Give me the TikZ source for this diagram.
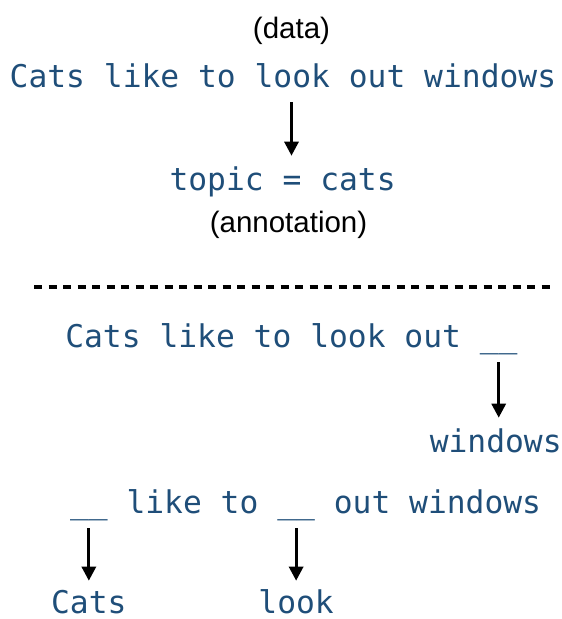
\documentclass[tikz,border=0pt]{standalone}
\usepackage{fontspec}
\setmainfont{Liberation Sans}
\setmonofont{DejaVu Sans Mono}
\usepackage{xcolor}
\usetikzlibrary{arrows.meta,positioning}
\definecolor{codeblue}{HTML}{1F4E79}
\newcommand{\cw}{18.844pt}

\begin{document}
\begin{tikzpicture}[x=1pt, y=-1pt,
    code/.style={font=\ttfamily\fontsize{31.3}{36}\selectfont, text=codeblue, inner sep=0pt, outer sep=0pt, text height=23.8pt, text depth=7.5pt},
    word/.style={code, text depth=1pt},
    note/.style={font=\fontsize{29.5}{34}\selectfont, inner sep=0pt},
    arrow/.style={-{Triangle[width=14pt,length=14pt]}, line width=3pt, shorten <=7.5pt, shorten >=11pt}]
    \useasboundingbox (0,0) rectangle (562,619);

    % data and its annotation
    \node [note, anchor=base] (data) at (291.5,38.5) {(data)};
    \node [code, anchor=base west] (sent) at (9.7,87) {Cats like to look out windows};
    \node [code, anchor=base] (topic) at (282.6,190.5) {topic = cats};
    \node [note, anchor=base] (annot) at (288.5,232) {(annotation)};
    \draw [arrow] (data |- sent.south) -- (data |- topic.north);

    \draw [dash pattern=on 8pt off 6.5pt, line width=3.5pt] (34,287) -- (550,287);

    % fill in the last word
    \node [code, anchor=base west] (mask1) at (65.3,347) {Cats like to look out};
    \node [code, base right=\cw of mask1] (gap1) {\_\_};
    \node [word, anchor=base, xshift=-3pt] (ans1) at (gap1.base |- 0,452.5) {windows};
    \draw [arrow] (gap1) -- (gap1 |- ans1.north);

    % fill in two words
    \node [code, anchor=base west] (gap2) at (70,513) {\_\_};
    \node [code, base right=\cw of gap2] (mask2) {like to};
    \node [code, base right=\cw of mask2] (gap3) {\_\_};
    \node [code, base right=\cw of gap3] (mask3) {out windows};
    \node [word, anchor=base] (ans2) at (gap2.base |- 0,613.5) {Cats};
    \node [word, anchor=base] (ans3) at (gap3.base |- 0,613.5) {look};
    \draw [arrow, shorten >=9pt] (gap2) -- (ans2);
    \draw [arrow, shorten >=9pt] (gap3) -- (ans3);
\end{tikzpicture}
\end{document}
